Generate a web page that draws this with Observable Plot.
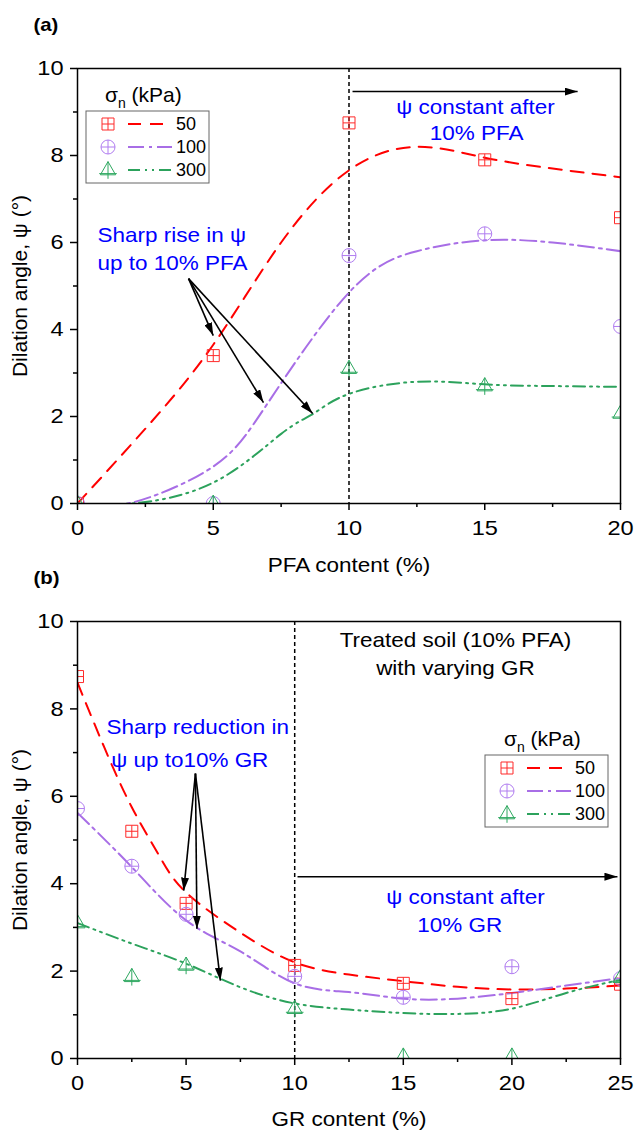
<!DOCTYPE html>
<html>
<head>
<meta charset="utf-8">
<script src="https://cdn.jsdelivr.net/npm/d3@7"></script>
<script src="https://cdn.jsdelivr.net/npm/@observablehq/plot@0.6"></script>
<style>
  body { margin: 0; background: #fff; }
  svg { display: block; }
</style>
</head>
<body>
<div id="chart"></div>
<script>
// ---------- Panel (a): dilation angle vs PFA content ----------
const pfaX = [0, 5, 10, 15, 20];
const a50 = [0, 3.4, 8.75, 7.9, 6.57];
const a100 = [0, 0, 5.7, 6.2, 4.07];
const a300 = [0, 0, 3.1, 2.7, 2.07];

// fitted trend curves (panel a)
const fitA50X = [0, 2.5, 5, 7.5, 10, 12.5, 15, 17.5, 20];
const fitA50Y = [0, 1.72, 3.65, 6.0, 7.66, 8.2, 7.95, 7.7, 7.5];
const fitA100X = [0, 2, 5, 7, 10, 12.5, 15, 17.5, 20];
const fitA100Y = [0, 0.02, 0.85, 2.3, 4.85, 5.8, 6.05, 6.0, 5.8];
const fitA300X = [0, 2, 5, 7.5, 8.7, 10, 12.5, 15, 17.5, 20];
const fitA300Y = [0, 0, 0.48, 1.6, 2.07, 2.52, 2.8, 2.74, 2.7, 2.68];

// ---------- Panel (b): dilation angle vs GR content ----------
const grX = [0, 2.5, 5, 10, 15, 20, 25];
const b50 = [8.74, 5.2, 3.55, 2.13, 1.72, 1.37, 1.7];
const b100 = [5.72, 4.4, 3.3, 1.88, 1.4, 2.1, 1.83];
const b300 = [3.1, 1.87, 2.13, 1.14, 0.05, 0.05, 1.85];

const fitB50X = [0, 1.25, 2.5, 3.75, 5, 7.5, 10, 12.5, 15, 17.5, 20, 22.5, 25];
const fitB50Y = [8.6, 7.1, 5.75, 4.65, 3.8, 2.88, 2.2, 1.92, 1.77, 1.64, 1.58, 1.6, 1.67];
const fitB100X = [0, 2.5, 5, 7.5, 10, 12.5, 15, 17.5, 20, 22.5, 25];
const fitB100Y = [5.62, 4.38, 3.16, 2.45, 1.72, 1.52, 1.37, 1.37, 1.5, 1.67, 1.84];
const fitB300X = [0, 2.5, 5, 7.5, 10, 12.5, 15, 17.5, 20, 22.5, 25];
const fitB300Y = [3.1, 2.63, 2.17, 1.63, 1.26, 1.12, 1.04, 1.02, 1.14, 1.5, 1.8];

// normal stress levels (legend)
const stressLabels = ["50", "100", "300"];

// ---------- styling ----------
const FONT = "'Liberation Sans', Arial, Helvetica, sans-serif";
const BLUE = "#0000ff";
const TEXT_SIZE = 21;       // horizontal labels
const TEXT_WIDEN = 1.07;    // horizontal widening of the lettering
const TICK_WIDEN = 1.12;    // widening of the tick numerals
const seriesStyle = [
  {line: "#ff0000", mark: "#ff2a2a", dash: "13,9", r: 6},
  {line: "#a86ee6", mark: "#b07cf0", dash: "16,5,3,5", r: 7},
  {line: "#2ca25c", mark: "#2ea860", dash: "12,5,2,5,2,5", r: 8}
];

// hollow symbols with a cross
const squarePlus = {draw(ctx, size) {
  const s = Math.sqrt(size / Math.PI);
  ctx.moveTo(-s, -s); ctx.lineTo(s, -s); ctx.lineTo(s, s); ctx.lineTo(-s, s); ctx.closePath();
  ctx.moveTo(0, -s); ctx.lineTo(0, s); ctx.moveTo(-s, 0); ctx.lineTo(s, 0);
}};
const circlePlus = {draw(ctx, size) {
  const r = Math.sqrt(size / Math.PI);
  ctx.moveTo(r, 0); ctx.arc(0, 0, r, 0, 2 * Math.PI);
  ctx.moveTo(0, -r); ctx.lineTo(0, r); ctx.moveTo(-r, 0); ctx.lineTo(r, 0);
}};
const trianglePlus = {draw(ctx, size) {
  const r = Math.sqrt(size / Math.PI);
  ctx.moveTo(0, -1.05 * r); ctx.lineTo(0.95 * r, 0.6 * r); ctx.lineTo(-0.95 * r, 0.6 * r); ctx.closePath();
  ctx.moveTo(0, -1.05 * r); ctx.lineTo(0, 1.1 * r);
  ctx.moveTo(-1.1 * r, 0.45 * r); ctx.lineTo(1.1 * r, 0.45 * r);
}};
const symbols = [squarePlus, circlePlus, trianglePlus];

// solid triangular arrow head
function solidHead() {
  const m = d3.create("svg:marker")
    .attr("viewBox", "-13 -4 13 8")
    .attr("markerWidth", 13).attr("markerHeight", 8)
    .attr("markerUnits", "userSpaceOnUse")
    .attr("orient", "auto")
    .attr("refX", 0).attr("refY", 0);
  m.append("path").attr("d", "M-13,-4L0,0L-13,4Z").attr("fill", "black").attr("stroke", "none");
  return m.node();
}

function toPoints(xs, ys) { return xs.map((x, i) => ({x, y: ys[i]})); }

// legend box drawn relative to the frame's top-left corner
function legendMark(left, top) {
  return (index, scales, values, dims) => {
    const g = d3.create("svg:g")
      .attr("class", "legend-box")
      .attr("transform", `translate(${dims.marginLeft + left},${dims.marginTop + top})`)
      .attr("font-family", FONT)
      .attr("text-anchor", "start");
    g.append("rect").attr("width", 123).attr("height", 72)
      .attr("fill", "none").attr("stroke", "#666").attr("stroke-width", 1);
    const t = g.append("text").attr("x", 19).attr("y", -16).attr("dy", "0.35em")
      .attr("font-size", 21).attr("fill", "black").attr("text-anchor", "start");
    t.append("tspan").text("σ");
    t.append("tspan").attr("font-size", 14).attr("dy", 6).text("n");
    t.append("tspan").attr("dy", -6).text(" (kPa)");
    stressLabels.forEach((lab, i) => {
      const y = 13 + 23 * i;
      const st = seriesStyle[i];
      const p = d3.path();
      symbols[i].draw(p, st.r * st.r * Math.PI);
      g.append("path").attr("d", p.toString())
        .attr("transform", `translate(22,${y})`)
        .attr("fill", "none").attr("stroke", st.mark).attr("stroke-width", 1);
      g.append("line").attr("x1", 42).attr("x2", 86).attr("y1", y).attr("y2", y)
        .attr("stroke", st.line).attr("stroke-width", 2).attr("stroke-dasharray", st.dash);
      g.append("text").attr("x", 90).attr("y", y).attr("dy", "0.35em")
        .attr("text-anchor", "start")
        .attr("font-size", 18).attr("fill", "black").text(lab);
    });
    return g.node();
  };
}

function seriesMarks(xs, ysList, fitsX, fitsY) {
  const marks = [];
  ysList.forEach((ys, i) => {
    const st = seriesStyle[i];
    marks.push(Plot.line(toPoints(fitsX[i], fitsY[i]), {
      x: "x", y: "y", curve: "natural", stroke: st.line, strokeWidth: 2,
      strokeDasharray: st.dash, clip: true
    }));
  });
  ysList.forEach((ys, i) => {
    const st = seriesStyle[i];
    marks.push(Plot.dot(toPoints(xs, ys), {
      x: "x", y: "y", symbol: symbols[i], r: st.r, stroke: st.mark, fill: "none",
      strokeWidth: 1, clip: true
    }));
  });
  return marks;
}

function axes(xMajor, xMinor, xTitle, panelTag, titleOffset) {
  return [
    Plot.axisX({ticks: xMajor, tickSize: 7, tickPadding: 10, fontSize: 21, label: null, strokeWidth: 1.5}),
    Plot.axisX({ticks: xMinor, tickSize: 4, tickFormat: () => "", label: null, strokeWidth: 1.5}),
    Plot.axisY({ticks: [0, 2, 4, 6, 8, 10], tickSize: 7, tickPadding: 7, fontSize: 21, label: null, strokeWidth: 1.5}),
    Plot.axisY({ticks: [1, 3, 5, 7, 9], tickSize: 4, tickFormat: () => "", label: null, strokeWidth: 1.5}),
    Plot.frame({stroke: "black", strokeWidth: 1.5}),
    Plot.text([xTitle], {text: d => d, frameAnchor: "bottom", textAnchor: "middle", lineAnchor: "middle",
      dy: titleOffset, fontSize: TEXT_SIZE, fill: "black"}),
    Plot.text(["Dilation angle, ψ (°)"], {text: d => d, frameAnchor: "left", textAnchor: "middle", lineAnchor: "middle",
      dx: -57, rotate: -90, fontSize: 21, fill: "black"}),
    Plot.text([panelTag], {text: d => d, frameAnchor: "top-left", textAnchor: "start", lineAnchor: "middle",
      dx: -44, dy: -44, fontSize: 19, fontWeight: "bold", fill: "black"})
  ];
}

// annotation texts & arrows
const notesA = [
  {x: 14.66, y: 9.1, text: "ψ constant after", anchor: "middle"},
  {x: 14.7, y: 8.5, text: "10% PFA", anchor: "middle"},
  {x: 0.74, y: 6.16, text: "Sharp rise in ψ", anchor: "start"},
  {x: 0.74, y: 5.52, text: "up to 10% PFA", anchor: "start"}
];
const arrowsA = [
  {x1: 10.13, y1: 9.47, x2: 18.42, y2: 9.47},
  {x1: 4.09, y1: 5.17, x2: 5.0, y2: 3.86},
  {x1: 4.09, y1: 5.17, x2: 6.85, y2: 2.32},
  {x1: 4.09, y1: 5.17, x2: 8.66, y2: 2.07}
];
const notesB = [
  {x: 17.86, y: 3.7, text: "ψ constant after", anchor: "middle"},
  {x: 17.6, y: 3.05, text: "10% GR", anchor: "middle"},
  {x: 1.34, y: 7.57, text: "Sharp reduction in", anchor: "start"},
  {x: 1.55, y: 6.82, text: "ψ up to10% GR", anchor: "start"}
];
const titleB = [
  {x: 17.4, y: 9.56, text: "Treated soil (10% PFA)"},
  {x: 17.4, y: 8.92, text: "with varying GR"}
];
const arrowsB = [
  {x1: 10.13, y1: 4.16, x2: 24.86, y2: 4.16},
  {x1: 5.43, y1: 6.52, x2: 4.89, y2: 3.84},
  {x1: 5.43, y1: 6.52, x2: 5.5, y2: 2.97},
  {x1: 5.43, y1: 6.52, x2: 6.58, y2: 1.78}
];

function noteMarks(notes) {
  return ["start", "middle"].map(a => Plot.text(notes.filter(d => d.anchor === a), {
    x: "x", y: "y", text: "text", textAnchor: a, fill: BLUE, fontSize: TEXT_SIZE
  }));
}

const commonStyle = {fontFamily: FONT, fontSize: "21px", color: "black", background: "white", overflow: "visible"};

const chartA = Plot.plot({
  width: 634, height: 575,
  marginLeft: 77, marginRight: 14, marginTop: 68, marginBottom: 72,
  x: {domain: [0, 20]}, y: {domain: [0, 10]},
  style: commonStyle,
  marks: [
    Plot.ruleX([10], {stroke: "black", strokeWidth: 1.5, strokeDasharray: "4,3"}),
    ...seriesMarks(pfaX, [a50, a100, a300], [fitA50X, fitA100X, fitA300X], [fitA50Y, fitA100Y, fitA300Y]),
    Plot.link(arrowsA, {x1: "x1", y1: "y1", x2: "x2", y2: "y2", stroke: "black", strokeWidth: 1.6, markerEnd: solidHead}),
    ...noteMarks(notesA),
    legendMark(9, 43),
    ...axes([0, 5, 10, 15, 20], [2.5, 7.5, 12.5, 17.5], "PFA content (%)", "(a)", 62)
  ]
});

const chartB = Plot.plot({
  width: 634, height: 555,
  marginLeft: 77, marginRight: 14, marginTop: 46, marginBottom: 72,
  x: {domain: [0, 25]}, y: {domain: [0, 10]},
  style: commonStyle,
  marks: [
    Plot.ruleX([10], {stroke: "black", strokeWidth: 1.5, strokeDasharray: "4,3"}),
    ...seriesMarks(grX, [b50, b100, b300], [fitB50X, fitB100X, fitB300X], [fitB50Y, fitB100Y, fitB300Y]),
    Plot.link(arrowsB, {x1: "x1", y1: "y1", x2: "x2", y2: "y2", stroke: "black", strokeWidth: 1.6, markerEnd: solidHead}),
    ...noteMarks(notesB),
    Plot.text(titleB, {x: "x", y: "y", text: "text", fill: "black", fontSize: TEXT_SIZE}),
    legendMark(408, 134),
    ...axes([0, 5, 10, 15, 20, 25], [2.5, 7.5, 12.5, 17.5, 22.5], "GR content (%)", "(b)", 61)
  ]
});

const root = document.getElementById("chart");
root.append(chartA, chartB);

// widen the upright lettering (legend and rotated title excluded)
for (const svg of [chartA, chartB]) {
  svg.querySelectorAll("text").forEach(el => {
    if (el.closest(".legend-box")) return;
    if ((el.getAttribute("transform") || "").includes("rotate")) return;
    const len = el.getComputedTextLength();
    if (len > 0) {
      const k = el.closest('[aria-label$="tick label"]') ? TICK_WIDEN : TEXT_WIDEN;
      el.setAttribute("textLength", (len * k).toFixed(1));
      el.setAttribute("lengthAdjust", "spacingAndGlyphs");
    }
  });
}
</script>
</body>
</html>
